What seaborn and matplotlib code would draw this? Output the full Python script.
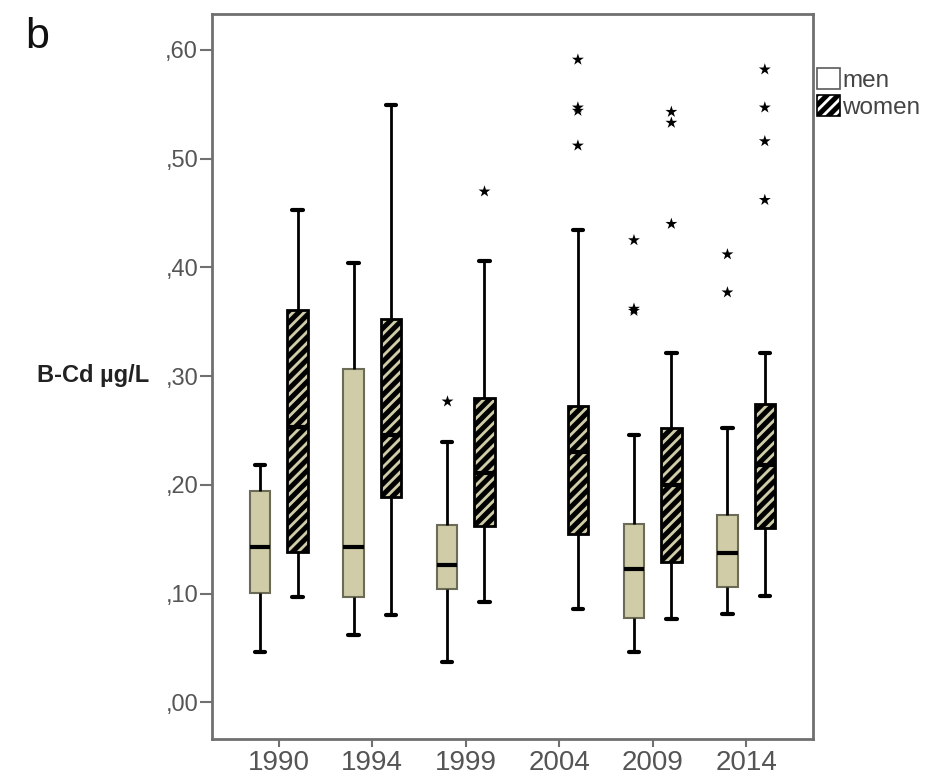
import numpy as np
import pandas as pd
import matplotlib
matplotlib.use("Agg")
import matplotlib.pyplot as plt
from matplotlib.patches import Patch
from matplotlib.ticker import FixedLocator, FuncFormatter
import seaborn as sns

# five-number summaries (B-Cd, ug/L)
years = ["1990", "1994", "1999", "2004", "2009", "2014"]
men_lo = [0.046, 0.062, 0.037, np.nan, 0.046, 0.081]
men_q1 = [0.101, 0.097, 0.104, np.nan, 0.078, 0.106]
men_med = [0.143, 0.143, 0.126, np.nan, 0.123, 0.137]
men_q3 = [0.194, 0.307, 0.163, np.nan, 0.164, 0.172]
men_hi = [0.218, 0.404, 0.239, np.nan, 0.246, 0.252]
women_lo = [0.097, 0.080, 0.092, 0.086, 0.077, 0.098]
women_q1 = [0.138, 0.189, 0.162, 0.155, 0.129, 0.160]
women_med = [0.253, 0.246, 0.211, 0.230, 0.200, 0.218]
women_q3 = [0.361, 0.353, 0.280, 0.273, 0.252, 0.274]
women_hi = [0.453, 0.549, 0.406, 0.434, 0.321, 0.321]

# extreme values (asterisks)
out_year = ["1999", "1999", "2004", "2004", "2004", "2004",
            "2009", "2009", "2009", "2009", "2009", "2009",
            "2014", "2014", "2014", "2014", "2014", "2014"]
out_sex = ["men", "women", "women", "women", "women", "women",
           "men", "men", "men", "women", "women", "women",
           "men", "men", "women", "women", "women", "women"]
out_value = [0.277, 0.470, 0.591, 0.547, 0.544, 0.512,
             0.425, 0.362, 0.360, 0.543, 0.533, 0.440,
             0.412, 0.377, 0.582, 0.547, 0.516, 0.462]

KHAKI = "#d6d1a0"
GREY = "#5a5a5a"

rows = []
for i, yr in enumerate(years):
    for sex, cols in (("men", (men_lo, men_q1, men_med, men_q3, men_hi)),
                      ("women", (women_lo, women_q1, women_med, women_q3, women_hi))):
        for c in cols:
            if not np.isnan(c[i]):
                rows.append({"year": yr, "sex": sex, "value": c[i]})
df = pd.DataFrame(rows)
out_df = pd.DataFrame({"year": out_year, "sex": out_sex, "value": out_value})

sns.set_style("white")
plt.rcParams["font.family"] = ["Liberation Sans", "DejaVu Sans"]
plt.rcParams["hatch.linewidth"] = 3.6
plt.rcParams["hatch.color"] = "black"

fig = plt.figure(figsize=(9.38, 7.81), dpi=100)
ax = fig.add_axes([0.226, 0.0538, 0.6407, 0.9283])

sns.boxplot(
    data=df, x="year", y="value", hue="sex",
    order=years, hue_order=["men", "women"],
    palette={"men": KHAKI, "women": KHAKI},
    width=0.8, gap=0.45, whis=(0, 100), showfliers=False,
    linecolor="black", linewidth=2,
    medianprops={"linewidth": 3},
    capprops={"linewidth": 3},
    legend=False, ax=ax,
)

for p in ax.patches:
    ext = p.get_path().get_extents()
    cx = ext.x0 + ext.width / 2
    if cx > round(cx):
        p.set_hatch("///")
        p.set_edgecolor("black")
    else:
        p.set_edgecolor("#6b6b58")
        p.set_linewidth(1.5)

sns.stripplot(
    data=out_df, x="year", y="value", hue="sex",
    order=years, hue_order=["men", "women"],
    palette={"men": "black", "women": "black"},
    dodge=True, jitter=False, marker="*", size=9, linewidth=0,
    legend=False, ax=ax,
)

ax.set_xlim(-0.715, 5.715)
ax.set_ylim(-0.0336, 0.633)
ax.yaxis.set_major_locator(FixedLocator([0, 0.1, 0.2, 0.3, 0.4, 0.5, 0.6]))
ax.yaxis.set_major_formatter(FuncFormatter(lambda v, pos: "," + f"{v * 100:02.0f}"))
ax.set_xlabel("")
ax.set_ylabel("B-Cd µg/L", rotation=0, ha="right", va="center",
              fontsize=17, fontweight="bold", color="#222222")
ax.yaxis.set_label_coords(-0.105, 0.501)

for s in ax.spines.values():
    s.set_color("#707070")
    s.set_linewidth(2)
ax.tick_params(axis="y", left=True, length=9, width=1.5, color="#707070",
               labelsize=17, labelcolor="#555555", pad=1)
ax.tick_params(axis="x", bottom=True, length=6, width=1.5, color="#707070",
               labelsize=20, labelcolor="#555555", pad=2)

handles = [
    Patch(facecolor="white", edgecolor=GREY, linewidth=1.2, label="men"),
    Patch(facecolor="white", edgecolor="black", hatch="///", linewidth=1.2, label="women"),
]
ax.legend(handles=handles, loc="upper left", bbox_to_anchor=(1.006, 0.925),
          frameon=False, fontsize=17.5, handlelength=0.95, handleheight=0.95,
          handletextpad=0.1, labelspacing=0.12, borderpad=0, borderaxespad=0,
          labelcolor="#444444")

fig.text(25 / 938, 1 - 48 / 781, "b", fontsize=31, ha="left", va="baseline", color="#111111")

fig.savefig("out.png", dpi=100)
